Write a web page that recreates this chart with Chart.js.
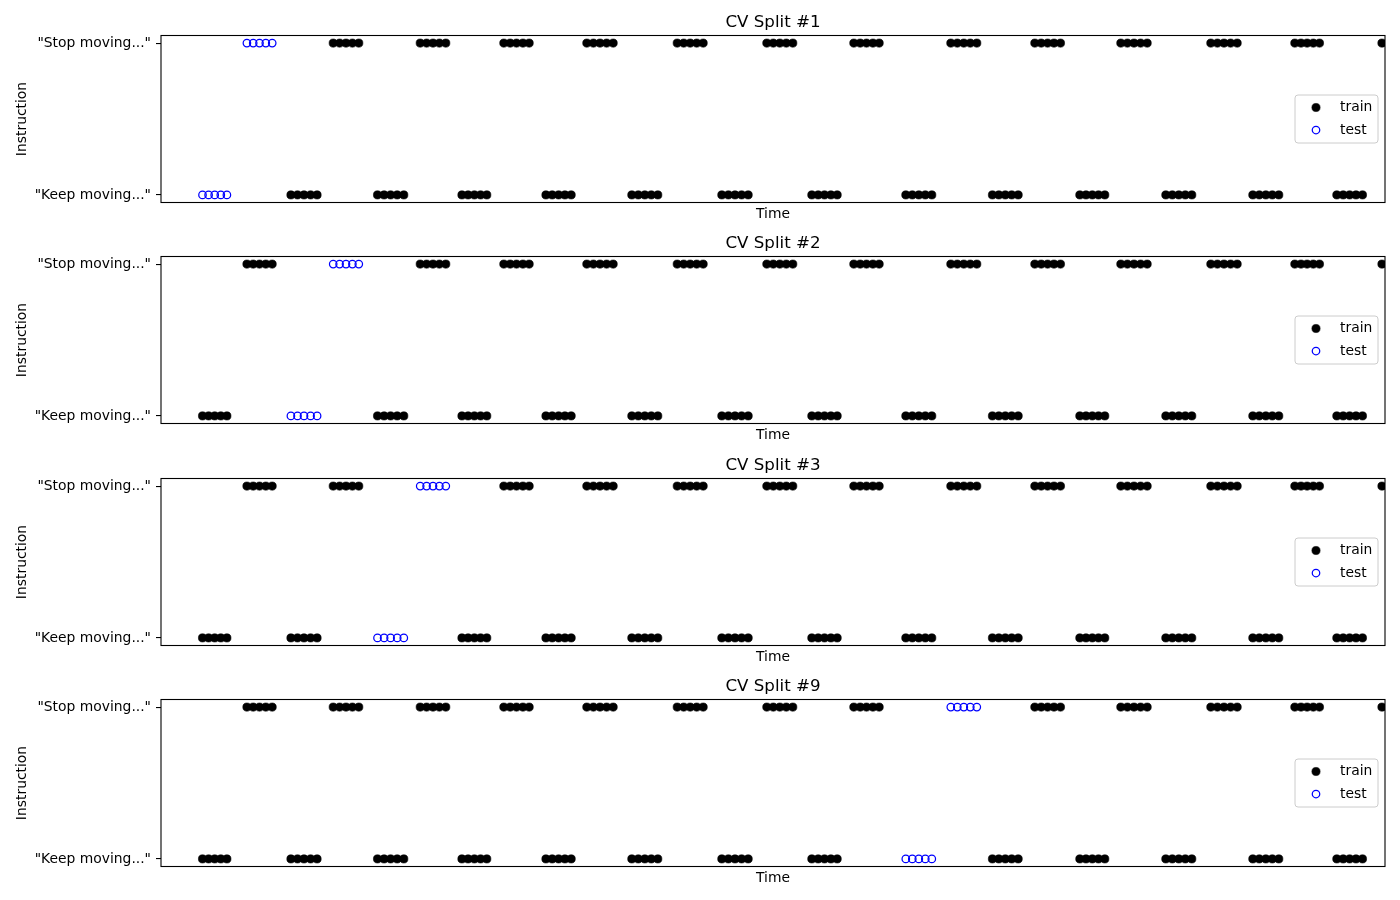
<!DOCTYPE html>
<html>
<head>
<meta charset="utf-8">
<script src="https://cdn.jsdelivr.net/npm/chart.js@4.4.1/dist/chart.umd.min.js"></script>
<style>
  html, body { margin: 0; padding: 0; background: #ffffff; }
  #wrap { position: relative; width: 1400px; height: 900px; overflow: hidden; background: #ffffff; }
  canvas { position: absolute; left: 0; }
</style>
</head>
<body>
<div id="wrap"></div>
<script>
// ---- data ----
const instructionLabels = ['"Keep moving..."', '"Stop moving..."'];
const splitTitles = ['CV Split #1', 'CV Split #2', 'CV Split #3', 'CV Split #9'];
const splitTestTrials = [0, 1, 2, 8];   // trial index held out in each split
const seriesNames = ['train', 'test'];
const axisTitles = { x: 'Time', y: 'Instruction' };

// sample times of the "Keep moving..." samples, one row per trial
const keepTimes = [
  [4.15, 4.76, 5.37, 5.98, 6.59],
  [12.99, 13.65, 14.30, 14.96, 15.61],
  [21.65, 22.31, 22.96, 23.62, 24.28],
  [30.09, 30.71, 31.34, 31.96, 32.58],
  [38.49, 39.12, 39.76, 40.39, 41.02],
  [47.08, 47.73, 48.38, 49.03, 49.68],
  [56.08, 56.74, 57.40, 58.06, 58.72],
  [65.08, 65.72, 66.35, 66.99, 67.62],
  [74.48, 75.13, 75.78, 76.43, 77.08],
  [83.14, 83.78, 84.43, 85.07, 85.72],
  [91.88, 92.50, 93.13, 93.75, 94.38],
  [100.48, 101.13, 101.78, 102.43, 103.08],
  [109.18, 109.83, 110.48, 111.13, 111.78],
  [117.58, 118.22, 118.86, 119.50, 120.15]
];
// sample times of the "Stop moving..." samples, one row per trial
const stopTimes = [
  [8.59, 9.22, 9.85, 10.48, 11.12],
  [17.22, 17.86, 18.50, 19.14, 19.78],
  [25.92, 26.56, 27.20, 27.84, 28.48],
  [34.28, 34.92, 35.55, 36.19, 36.82],
  [42.58, 43.24, 43.90, 44.56, 45.22],
  [51.62, 52.27, 52.92, 53.57, 54.22],
  [60.58, 61.23, 61.88, 62.53, 63.18],
  [69.28, 69.92, 70.55, 71.19, 71.82],
  [78.98, 79.63, 80.28, 80.93, 81.58],
  [87.38, 88.02, 88.66, 89.30, 89.95],
  [95.98, 96.64, 97.30, 97.96, 98.62],
  [104.98, 105.64, 106.30, 106.96, 107.62],
  [113.38, 114.00, 114.61, 115.23, 115.85],
  [122.09, 122.73, 123.37, 124.01, 124.65]
];
const timeRange = [0, 122.4];

// ---- styling ----
const FONT = 'DejaVu Sans';
Chart.defaults.font.family = FONT;
Chart.defaults.color = '#000000';

const framePlugin = {
  id: 'frame',
  afterDatasetsDraw(chart) {
    const { ctx, chartArea: a } = chart;
    ctx.save();
    ctx.strokeStyle = '#000000';
    ctx.lineWidth = 1.1;
    ctx.strokeRect(a.left, a.top, a.right - a.left, a.bottom - a.top);
    ctx.restore();
  }
};

const boxLegendPlugin = {
  id: 'boxLegend',
  afterDraw(chart) {
    const { ctx, chartArea: a } = chart;
    const boxW = 83, boxH = 48;
    const right = a.right - 7;
    const left = right - boxW;
    const top = (a.top + a.bottom) / 2 - boxH / 2;
    ctx.save();
    const r = 3;
    ctx.beginPath();
    ctx.moveTo(left + r, top);
    ctx.lineTo(left + boxW - r, top);
    ctx.arcTo(left + boxW, top, left + boxW, top + r, r);
    ctx.lineTo(left + boxW, top + boxH - r);
    ctx.arcTo(left + boxW, top + boxH, left + boxW - r, top + boxH, r);
    ctx.lineTo(left + r, top + boxH);
    ctx.arcTo(left, top + boxH, left, top + boxH - r, r);
    ctx.lineTo(left, top + r);
    ctx.arcTo(left, top, left + r, top, r);
    ctx.closePath();
    ctx.fillStyle = 'rgba(255,255,255,0.8)';
    ctx.fill();
    ctx.strokeStyle = '#cccccc';
    ctx.lineWidth = 1;
    ctx.stroke();
    chart.data.datasets.forEach((ds, i) => {
      const cy = top + 12.5 + i * 22.5;
      const mx = left + 21;
      ctx.beginPath();
      ctx.arc(mx, cy, ds.pointRadius, 0, Math.PI * 2);
      ctx.fillStyle = ds.pointBackgroundColor;
      ctx.fill();
      ctx.lineWidth = ds.pointBorderWidth;
      ctx.strokeStyle = ds.pointBorderColor;
      ctx.stroke();
      ctx.fillStyle = '#000000';
      ctx.font = '13.89px "' + FONT + '"';
      ctx.textBaseline = 'middle';
      ctx.textAlign = 'left';
      ctx.fillText(ds.label, left + 45, cy);
    });
    ctx.restore();
  }
};

const wrap = document.getElementById('wrap');
const panelTops = [0, 221, 443, 664];

splitTitles.forEach((title, si) => {
  const canvas = document.createElement('canvas');
  canvas.width = 1400;
  canvas.height = 226;
  canvas.style.top = panelTops[si] + 'px';
  wrap.appendChild(canvas);

  const testTrial = splitTestTrials[si];
  const train = [], test = [];
  keepTimes.forEach((row, t) => {
    row.forEach(x => (t === testTrial ? test : train).push({ x: x, y: 0 }));
  });
  stopTimes.forEach((row, t) => {
    row.forEach(x => (t === testTrial ? test : train).push({ x: x, y: 1 }));
  });

  new Chart(canvas, {
    type: 'scatter',
    data: {
      datasets: [
        {
          label: seriesNames[0], data: train,
          pointRadius: 4.1, pointBorderWidth: 0.6,
          pointBackgroundColor: '#000000', pointBorderColor: '#000000',
          pointHoverRadius: 4.1, clip: 0
        },
        {
          label: seriesNames[1], data: test,
          pointRadius: 3.75, pointBorderWidth: 1.25,
          pointBackgroundColor: 'rgba(0,0,0,0)', pointBorderColor: '#0000ff',
          pointHoverRadius: 3.75, clip: 0
        }
      ]
    },
    options: {
      responsive: false,
      animation: false,
      devicePixelRatio: 1,
      events: [],
      layout: { padding: { left: 0, right: 15, top: 0, bottom: 0 } },
      plugins: {
        legend: { display: false },
        tooltip: { enabled: false },
        title: {
          display: true, text: title, color: '#000000', fullSize: false,
          font: { family: FONT, size: 16.67, weight: 'normal' },
          padding: { top: 12.5, bottom: 3.0 }
        }
      },
      scales: {
        x: {
          type: 'linear', min: timeRange[0], max: timeRange[1],
          grid: { display: false, drawTicks: false },
          border: { display: false },
          ticks: { display: false },
          title: {
            display: true, text: axisTitles.x, color: '#000000',
            font: { family: FONT, size: 13.89 },
            padding: { top: 4, bottom: 2.83 }
          }
        },
        y: {
          type: 'linear', min: -0.05, max: 1.05,
          afterBuildTicks: (scale) => { scale.ticks = [{ value: 0 }, { value: 1 }]; },
          afterFit: (scale) => { scale.width = 161; },
          grid: { display: true, drawOnChartArea: false, drawTicks: true, tickLength: 5, color: '#000000', lineWidth: 1.1 },
          border: { display: false },
          ticks: {
            padding: 5, color: '#000000', autoSkip: false,
            font: { family: FONT, size: 13.89 },
            callback: (v) => instructionLabels[v]
          },
          title: {
            display: true, text: axisTitles.y, color: '#000000',
            font: { family: FONT, size: 13.89 },
            padding: { top: 14.5, bottom: 0 }
          }
        }
      }
    },
    plugins: [framePlugin, boxLegendPlugin]
  });
});
</script>
</body>
</html>
